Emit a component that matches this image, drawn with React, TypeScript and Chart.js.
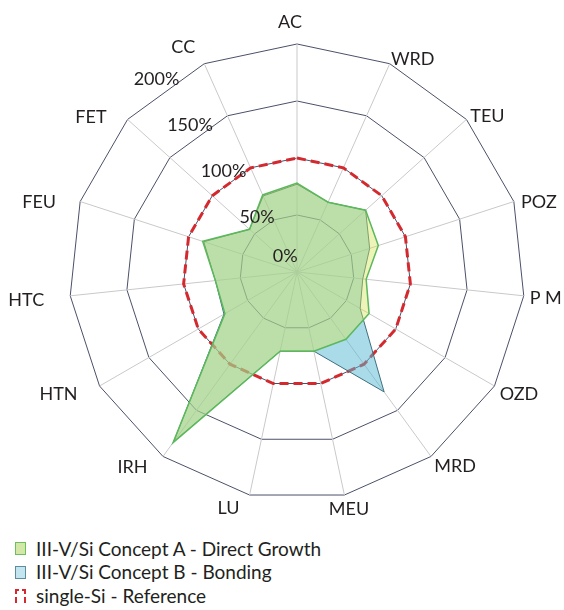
import React, { useEffect, useRef } from 'react';
import { Chart, registerables } from 'chart.js';

Chart.register(...registerables);

// ---- data ----
const CATEGORIES = ['AC', 'WRD', 'TEU', 'POZ', 'P M', 'OZD', 'MRD', 'MEU', 'LU', 'IRH', 'HTN', 'HTC', 'FEU', 'FET', 'CC'];
const CONCEPT_A = [78, 67, 81, 75, 61, 73, 73, 71, 71, 185, 73, 72, 87, 56, 74];
const CONCEPT_B = [77, 67, 81, 67, 58, 64, 130, 71, 71, 184, 74, 72, 86, 56, 73];
const REFERENCE = [100, 100, 100, 100, 100, 100, 100, 100, 100, 100, 100, 100, 100, 100, 100];
const TICK_VALUES = [0, 50, 100, 150, 200];
const TICK_LABELS = ['0%', '50%', '100%', '150%', '200%'];
const SERIES_NAMES = ['III-V/Si Concept A - Direct Growth', 'III-V/Si Concept B - Bonding', 'single-Si - Reference'];

// ---- layout (label placement relative to each axis end) ----
const LABEL_OFFSETS: [number, number][] = [
  [-7, -22.5], [23, -5], [21, -4], [25, 0], [22, 2], [24.5, 7.5], [24, 9], [4.6, 13.5],
  [-21, 12.5], [-30.5, 10.5], [-41, 7.5], [-44, 3.7], [-41, 0], [-36.6, -3], [-21, -17],
];
const TICK_ANGLE_DEG = -36;
const FONT_FAMILY = 'Lato, "Open Sans", sans-serif';
const TEXT_COLOR = '#231f20';

const labelPlugin = {
  id: 'customLabels',
  afterDatasetsDraw(chart: any) {
    const scale = chart.scales.r;
    const ctx = chart.ctx;
    const size = 18;
    ctx.save();
    ctx.font = `${size}px ${FONT_FAMILY}`;
    ctx.fillStyle = TEXT_COLOR;
    ctx.textAlign = 'center';
    ctx.textBaseline = 'alphabetic';
    const capShift = size * 0.36;
    (chart.data.labels as string[]).forEach((lab, i) => {
      const p = scale.getPointPosition(i, scale.drawingArea);
      const [dx, dy] = LABEL_OFFSETS[i];
      ctx.fillText(lab, p.x + dx, p.y + dy + capShift);
    });
    const ang = (TICK_ANGLE_DEG * Math.PI) / 180;
    TICK_VALUES.forEach((v, k) => {
      const r = scale.getDistanceFromCenterForValue(v);
      const d = Math.max(r + 11, 20);
      ctx.fillText(TICK_LABELS[k], scale.xCenter + d * Math.sin(ang), scale.yCenter - d * Math.cos(ang) + capShift);
    });
    ctx.restore();
  },
};

function RadarChart() {
  const ref = useRef<HTMLCanvasElement | null>(null);
  useEffect(() => {
    if (!ref.current) return;
    const chart = new Chart(ref.current, {
      type: 'radar',
      data: {
        labels: CATEGORIES,
        datasets: [
          {
            label: SERIES_NAMES[0],
            data: CONCEPT_A,
            backgroundColor: 'rgba(213,228,82,0.41)',
            borderColor: '#5cb85c',
            borderWidth: 1.5,
            fill: true,
            order: 1,
          },
          {
            label: SERIES_NAMES[1],
            data: CONCEPT_B,
            backgroundColor: 'rgba(85,183,209,0.5)',
            borderColor: '#3f6f7f',
            borderWidth: 1,
            fill: true,
            order: 2,
          },
          {
            label: SERIES_NAMES[2],
            data: REFERENCE,
            backgroundColor: 'rgba(0,0,0,0)',
            borderColor: '#d42a2f',
            borderWidth: 3,
            borderDash: [9, 5],
            fill: false,
            order: 3,
          },
        ],
      },
      options: {
        responsive: false,
        animation: false,
        layout: { padding: { left: 69, right: 39, top: 44, bottom: 28 } },
        plugins: { legend: { display: false }, tooltip: { enabled: false } },
        elements: { point: { radius: 0, hoverRadius: 0 }, line: { tension: 0 } },
        scales: {
          r: {
            min: 0,
            max: 200,
            ticks: { stepSize: 50, display: false },
            pointLabels: { display: false },
            grid: { color: '#4a5068', lineWidth: 1 },
            angleLines: { color: '#c9c9c9', lineWidth: 1 },
          },
        },
      },
      plugins: [labelPlugin],
    } as any);
    return () => chart.destroy();
  }, []);
  return <canvas ref={ref} width={564} height={528} style={{ display: 'block', width: 564, height: 528 }} />;
}

const rowStyle = (top: number): React.CSSProperties => ({
  position: 'absolute',
  left: 15,
  top,
  height: 20,
  lineHeight: '20px',
  display: 'flex',
  alignItems: 'center',
  font: `19px ${FONT_FAMILY}`,
  color: TEXT_COLOR,
  whiteSpace: 'nowrap',
});

const boxStyle = (bg: string, border: string): React.CSSProperties => ({
  width: 11,
  height: 13,
  boxSizing: 'border-box',
  background: bg,
  border: `1px solid ${border}`,
  marginRight: 10,
  flex: '0 0 auto',
});

export default function App() {
  return (
    <div style={{ position: 'relative', width: 564, height: 610, overflow: 'hidden' }}>
      <style>{'html,body{margin:0;padding:0;overflow:hidden;}'}</style>
      <RadarChart />
      <div style={rowStyle(538.5)}>
        <span style={boxStyle('#d3e8a6', '#6cbf5f')} />
        <span style={{ lineHeight: '20px' }}>{SERIES_NAMES[0]}</span>
      </div>
      <div style={rowStyle(562)}>
        <span style={boxStyle('#c3e5ef', '#5d8c9c')} />
        <span style={{ lineHeight: '20px' }}>{SERIES_NAMES[1]}</span>
      </div>
      <div style={rowStyle(585.5)}>
        <svg width={11} height={14} style={{ marginRight: 10, flex: '0 0 auto' }}>
          <path d="M1 5 V1 H4 M7 1 H10 V5 M1 8 V13 H2 M9 13 H10 V8" fill="none" stroke="#d42a2f" strokeWidth={2} />
        </svg>
        <span style={{ lineHeight: '20px' }}>{SERIES_NAMES[2]}</span>
      </div>
    </div>
  );
}
